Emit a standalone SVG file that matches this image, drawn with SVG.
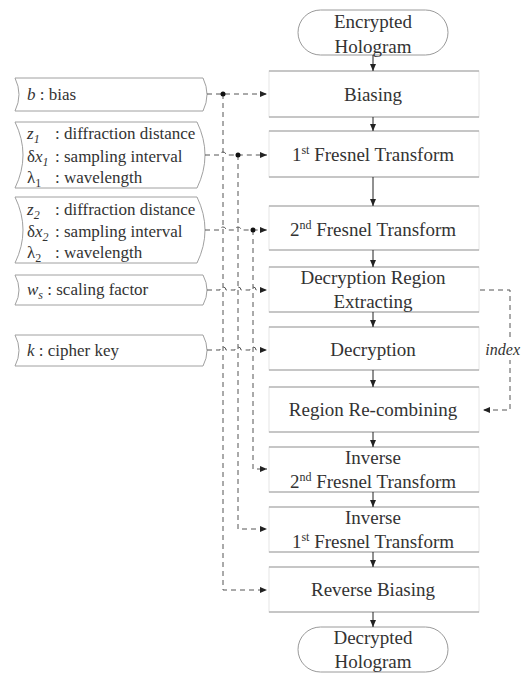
<svg xmlns="http://www.w3.org/2000/svg" width="522" height="673" viewBox="0 0 522 673">
<defs>
<marker id="ah" markerWidth="7" markerHeight="6" refX="7" refY="3" orient="auto" markerUnits="userSpaceOnUse"><path d="M0,0 L7,3 L0,6 z" fill="#222"/></marker>
<style>
.bx{fill:#fff;stroke:#e6e6e6;stroke-width:1}
.hl{stroke:#9a9a9a;stroke-width:1.2}
.term{fill:#fff;stroke:#9a9a9a;stroke-width:1}
.par{fill:#fff;stroke:#a0a0a0;stroke-width:1}
.t{font-family:'Liberation Serif','DejaVu Serif',serif;font-size:19px;fill:#333;text-anchor:middle}
.p{font-family:'Liberation Serif','DejaVu Serif',serif;font-size:17px;fill:#333}
.i{font-style:italic}
.sup{font-size:12px}
.dash{fill:none;stroke:#555;stroke-width:1;stroke-dasharray:5 4}
.sol{fill:none;stroke:#222;stroke-width:1}
.dot{fill:#111}
</style>
</defs>

<g id="n-encrypted">
<rect class="term" x="298" y="10" width="150" height="45" rx="22.5"/>
<text class="t" x="373" y="28">Encrypted</text>
<text class="t" x="373" y="53">Hologram</text>
</g>

<g id="n-biasing">
<rect class="bx" x="269" y="71" width="210" height="46"/>
<line class="hl" x1="269" y1="71" x2="479" y2="71"/><line class="hl" x1="269" y1="117" x2="479" y2="117"/>
<text class="t" x="373" y="101">Biasing</text>
</g>

<g id="n-fresnel1">
<rect class="bx" x="269" y="131" width="210" height="46"/>
<line class="hl" x1="269" y1="131" x2="479" y2="131"/><line class="hl" x1="269" y1="177" x2="479" y2="177"/>
<text class="t" x="373" y="161">1<tspan class="sup" dy="-7">st</tspan><tspan dy="7"> Fresnel Transform</tspan></text>
</g>

<g id="n-fresnel2">
<rect class="bx" x="269" y="206" width="210" height="44"/>
<line class="hl" x1="269" y1="206" x2="479" y2="206"/><line class="hl" x1="269" y1="250" x2="479" y2="250"/>
<text class="t" x="373" y="236">2<tspan class="sup" dy="-7">nd</tspan><tspan dy="7"> Fresnel Transform</tspan></text>
</g>

<g id="n-extract">
<rect class="bx" x="269" y="267" width="210" height="45"/>
<line class="hl" x1="269" y1="267" x2="479" y2="267"/><line class="hl" x1="269" y1="312" x2="479" y2="312"/>
<text class="t" x="373" y="284">Decryption Region</text>
<text class="t" x="373" y="308">Extracting</text>
</g>

<g id="n-decryption">
<rect class="bx" x="269" y="327" width="210" height="43"/>
<line class="hl" x1="269" y1="327" x2="479" y2="327"/><line class="hl" x1="269" y1="370" x2="479" y2="370"/>
<text class="t" x="373" y="356">Decryption</text>
</g>

<g id="n-recombine">
<rect class="bx" x="269" y="387" width="210" height="45"/>
<line class="hl" x1="269" y1="387" x2="479" y2="387"/><line class="hl" x1="269" y1="432" x2="479" y2="432"/>
<text class="t" x="373" y="416">Region Re-combining</text>
</g>

<g id="n-inv2">
<rect class="bx" x="269" y="447" width="210" height="45"/>
<line class="hl" x1="269" y1="447" x2="479" y2="447"/><line class="hl" x1="269" y1="492" x2="479" y2="492"/>
<text class="t" x="373" y="464">Inverse</text>
<text class="t" x="373" y="488">2<tspan class="sup" dy="-7">nd</tspan><tspan dy="7"> Fresnel Transform</tspan></text>
</g>

<g id="n-inv1">
<rect class="bx" x="269" y="507" width="210" height="45"/>
<line class="hl" x1="269" y1="507" x2="479" y2="507"/><line class="hl" x1="269" y1="552" x2="479" y2="552"/>
<text class="t" x="373" y="524">Inverse</text>
<text class="t" x="373" y="548">1<tspan class="sup" dy="-7">st</tspan><tspan dy="7"> Fresnel Transform</tspan></text>
</g>

<g id="n-revbias">
<rect class="bx" x="269" y="567" width="210" height="45"/>
<line class="hl" x1="269" y1="567" x2="479" y2="567"/><line class="hl" x1="269" y1="612" x2="479" y2="612"/>
<text class="t" x="373" y="596">Reverse Biasing</text>
</g>

<g id="n-decrypted">
<rect class="term" x="298" y="627" width="150" height="45" rx="22.5"/>
<text class="t" x="373" y="644">Decrypted</text>
<text class="t" x="373" y="668">Hologram</text>
</g>

<g id="p-bias">
<path class="par" d="M15,78 H203 Q211,94.5 203,111 H15 Q23,94.5 15,78 Z"/>
<text class="p" x="27" y="100"><tspan class="i">b</tspan> : bias</text>
</g>

<g id="p-z1">
<path class="par" d="M15,122 H197 Q213,155 197,188 H15 Q31,155 15,122 Z"/>
<text class="p" x="27" y="139"><tspan class="i">z</tspan><tspan class="i sup" dy="4">1</tspan><tspan x="55" dy="-4">: diffraction distance</tspan></text>
<text class="p" x="27" y="162">δ<tspan class="i">x</tspan><tspan class="i sup" dy="4">1</tspan><tspan x="55" dy="-4">: sampling interval</tspan></text>
<text class="p" x="27" y="183">λ<tspan class="sup" dy="4">1</tspan><tspan x="55" dy="-4">: wavelength</tspan></text>
</g>

<g id="p-z2">
<path class="par" d="M15,197 H197 Q213,230 197,263 H15 Q31,230 15,197 Z"/>
<text class="p" x="27" y="215"><tspan class="i">z</tspan><tspan class="i sup" dy="4">2</tspan><tspan x="55" dy="-4">: diffraction distance</tspan></text>
<text class="p" x="27" y="237">δ<tspan class="i">x</tspan><tspan class="i sup" dy="4">2</tspan><tspan x="55" dy="-4">: sampling interval</tspan></text>
<text class="p" x="27" y="258">λ<tspan class="sup" dy="4">2</tspan><tspan x="55" dy="-4">: wavelength</tspan></text>
</g>

<g id="p-ws">
<path class="par" d="M15,275 H203 Q211,290 203,305 H15 Q23,290 15,275 Z"/>
<text class="p" x="27" y="295"><tspan class="i">w</tspan><tspan class="i sup" dy="4">s</tspan><tspan dy="-4"> : scaling factor</tspan></text>
</g>

<g id="p-k">
<path class="par" d="M15,335 H203 Q211,350.5 203,366 H15 Q23,350.5 15,335 Z"/>
<text class="p" x="27" y="356"><tspan class="i">k</tspan> : cipher key</text>
</g>

<g id="connectors">
<line class="sol" x1="373" y1="55" x2="373" y2="71" marker-end="url(#ah)"/>
<line class="sol" x1="373" y1="117" x2="373" y2="131" marker-end="url(#ah)"/>
<line class="sol" x1="373" y1="177" x2="373" y2="206" marker-end="url(#ah)"/>
<line class="sol" x1="373" y1="250" x2="373" y2="267" marker-end="url(#ah)"/>
<line class="sol" x1="373" y1="312" x2="373" y2="327" marker-end="url(#ah)"/>
<line class="sol" x1="373" y1="370" x2="373" y2="387" marker-end="url(#ah)"/>
<line class="sol" x1="373" y1="432" x2="373" y2="447" marker-end="url(#ah)"/>
<line class="sol" x1="373" y1="492" x2="373" y2="507" marker-end="url(#ah)"/>
<line class="sol" x1="373" y1="552" x2="373" y2="567" marker-end="url(#ah)"/>
<line class="sol" x1="373" y1="612" x2="373" y2="627" marker-end="url(#ah)"/>

<path class="dash" d="M207,94 H267" marker-end="url(#ah)"/>
<path class="dash" d="M223,94 V590 H267" marker-end="url(#ah)"/>
<circle class="dot" cx="223" cy="94" r="2.5"/>

<path class="dash" d="M205,155 H220 A3,3 0 0 1 226,155 H267" marker-end="url(#ah)"/>
<path class="dash" d="M238,155 V529 H267" marker-end="url(#ah)"/>
<circle class="dot" cx="238" cy="155" r="2.5"/>

<path class="dash" d="M205,230 H220 A3,3 0 0 1 226,230 H235 A3,3 0 0 1 241,230 H267" marker-end="url(#ah)"/>
<path class="dash" d="M253,230 V469 H267" marker-end="url(#ah)"/>
<circle class="dot" cx="253" cy="230" r="2.5"/>

<path class="dash" d="M207,290 H220 A3,3 0 0 1 226,290 H235 A3,3 0 0 1 241,290 H250 A3,3 0 0 1 256,290 H267" marker-end="url(#ah)"/>
<path class="dash" d="M207,350 H220 A3,3 0 0 1 226,350 H235 A3,3 0 0 1 241,350 H250 A3,3 0 0 1 256,350 H267" marker-end="url(#ah)"/>

<path class="dash" d="M480,290 H510 V410 H483" marker-end="url(#ah)"/>
<rect x="486" y="340" width="36" height="20" fill="#fff"/>
<text class="p i" x="520" y="355" text-anchor="end" style="font-size:16px">index</text>
</g>
</svg>
